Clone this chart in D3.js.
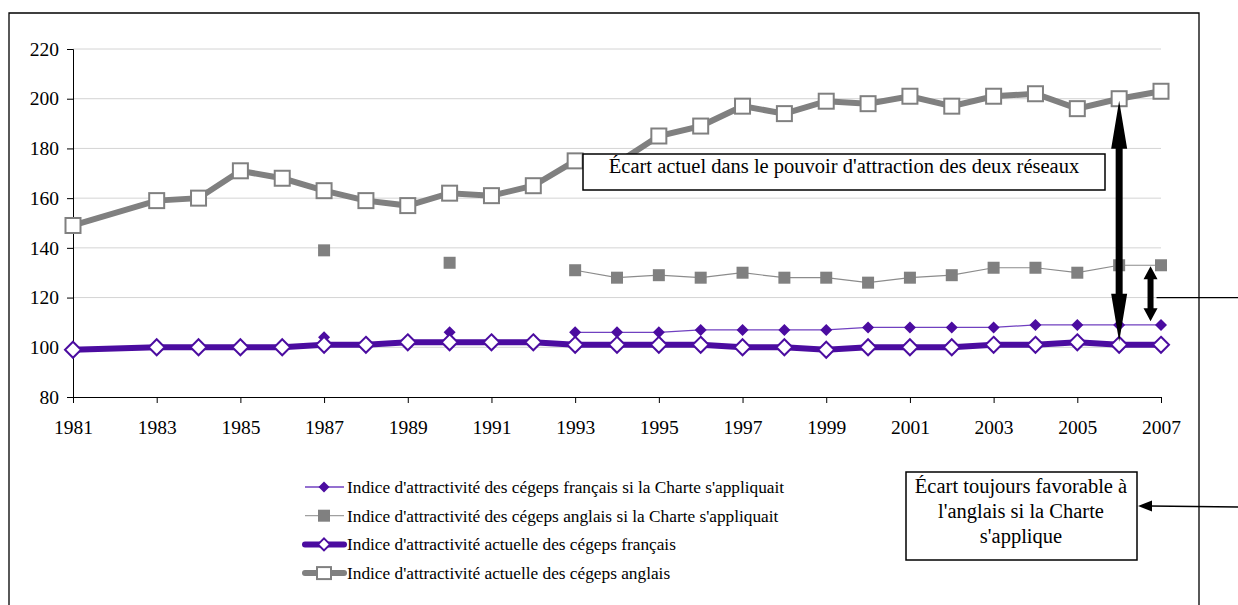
<!DOCTYPE html>
<html>
<head>
<meta charset="utf-8">
<script src="https://cdn.jsdelivr.net/npm/d3@7"></script>
<style>
  body { margin: 0; background: #fff; }
  svg text { font-family: "Liberation Serif", "Times New Roman", serif !important; fill: #000; }
</style>
</head>
<body>
<svg id="chart"></svg>
<script>
// data
const years = d3.range(1981, 2008).filter(y => y !== 1982);
const charteYears = years.slice(1); // 1983..2007
const yearTicks = [1981, 1983, 1985, 1987, 1989, 1991, 1993, 1995, 1997, 1999, 2001, 2003, 2005, 2007];
const valueTicks = [80, 100, 120, 140, 160, 180, 200, 220];

// null = no value that year (charte series are given for 1983..2007)
const frCharte = [null, null, null, null, 104, null, null, 106, null, null, 106, 106, 106, 107, 107, 107, 107, 108, 108, 108, 108, 109, 109, 109, 109];
const anCharte = [null, null, null, null, 139, null, null, 134, null, null, 131, 128, 129, 128, 130, 128, 128, 126, 128, 129, 132, 132, 130, 133, 133];
const frActuel = [99, 100, 100, 100, 100, 101, 101, 102, 102, 102, 102, 101, 101, 101, 101, 100, 100, 99, 100, 100, 100, 101, 101, 102, 101, 101];
const anActuel = [149, 159, 160, 171, 168, 163, 159, 157, 162, 161, 165, 175, 174, 185, 189, 197, 194, 199, 198, 201, 197, 201, 202, 196, 200, 203];

const seriesNames = [
  "Indice d'attractivité des cégeps français si la Charte s'appliquait",
  "Indice d'attractivité des cégeps anglais si la Charte s'appliquait",
  "Indice d'attractivité actuelle des cégeps français",
  "Indice d'attractivité actuelle des cégeps anglais"
];
const annot1 = "Écart actuel dans le pouvoir d'attraction des deux réseaux";
const annot2 = ["Écart toujours favorable à", "l'anglais si la Charte", "s'applique"];

const width = 1238, height = 605;
const purple = '#4b0ca0', grey = '#808080';

const svg = d3.select('#chart')
  .attr('width', width)
  .attr('height', height)
  .attr('viewBox', [0, 0, width, height]);

// outer frame (chart area border)
svg.append('path')
  .attr('d', `M9,605 V13 H1199 V605`)
  .attr('fill', 'none')
  .attr('stroke', '#000')
  .attr('stroke-width', 1.3);

const x = d3.scaleLinear([1981, 2007], [73, 1161]);
const y = d3.scaleLinear([80, 220], [397, 49]);

// gridlines
svg.append('g')
  .selectAll('line')
  .data(valueTicks.slice(1))
  .join('line')
    .attr('x1', x(1981)).attr('x2', x(2007))
    .attr('y1', d => y(d)).attr('y2', d => y(d))
    .attr('stroke', '#d4d4d4')
    .attr('stroke-width', 1);

// axes
const yAxis = svg.append('g')
  .attr('transform', `translate(${x(1981)},0)`)
  .call(d3.axisLeft(y).tickValues(valueTicks).tickSize(6).tickPadding(8));
const xAxis = svg.append('g')
  .attr('transform', `translate(0,${y(80)})`)
  .call(d3.axisBottom(x).tickValues(yearTicks).tickFormat(d3.format('d')).tickSize(6).tickPadding(17));
[xAxis, yAxis].forEach(g => {
  g.attr('font-size', 19.5);
  g.select('.domain').attr('stroke', '#000');
  g.selectAll('.tick line').attr('stroke', '#000');
});

const line = d3.line()
  .defined(d => d.v !== null)
  .x(d => x(d.yr))
  .y(d => y(d.v));

const zipYears = (yrs, vals) => yrs.map((yr, i) => ({ yr, v: vals[i] }));

const diamond = s => `M0,${-s}L${s},0L0,${s}L${-s},0Z`;

// series 1: français si la Charte
const s1 = zipYears(charteYears, frCharte);
svg.append('path')
  .attr('d', line(s1))
  .attr('fill', 'none')
  .attr('stroke', '#7040c0')
  .attr('stroke-width', 1.3);
svg.append('g')
  .selectAll('path')
  .data(s1.filter(d => d.v !== null))
  .join('path')
    .attr('transform', d => `translate(${x(d.yr)},${y(d.v)})`)
    .attr('d', diamond(6))
    .attr('fill', purple);

// series 2: anglais si la Charte
const s2 = zipYears(charteYears, anCharte);
svg.append('path')
  .attr('d', line(s2))
  .attr('fill', 'none')
  .attr('stroke', '#8c8c8c')
  .attr('stroke-width', 1.2);
svg.append('g')
  .selectAll('rect')
  .data(s2.filter(d => d.v !== null))
  .join('rect')
    .attr('x', d => x(d.yr) - 6)
    .attr('y', d => y(d.v) - 6)
    .attr('width', 12)
    .attr('height', 12)
    .attr('fill', grey);

// series 3: français actuel
const s3 = zipYears(years, frActuel);
svg.append('path')
  .attr('d', line(s3))
  .attr('fill', 'none')
  .attr('stroke', purple)
  .attr('stroke-width', 6);
svg.append('g')
  .selectAll('path')
  .data(s3)
  .join('path')
    .attr('transform', d => `translate(${x(d.yr)},${y(d.v)})`)
    .attr('d', diamond(8))
    .attr('fill', '#fff')
    .attr('stroke', purple)
    .attr('stroke-width', 2);

// series 4: anglais actuel
const s4 = zipYears(years, anActuel);
svg.append('path')
  .attr('d', line(s4))
  .attr('fill', 'none')
  .attr('stroke', grey)
  .attr('stroke-width', 6);
svg.append('g')
  .selectAll('rect')
  .data(s4)
  .join('rect')
    .attr('x', d => x(d.yr) - 7.5)
    .attr('y', d => y(d.v) - 7.5)
    .attr('width', 15)
    .attr('height', 15)
    .attr('fill', '#fff')
    .attr('stroke', grey)
    .attr('stroke-width', 2);

// annotation box 1
const box1 = svg.append('g');
box1.append('rect')
  .attr('x', 583).attr('y', 154)
  .attr('width', 522).attr('height', 36)
  .attr('fill', '#fff')
  .attr('stroke', '#000')
  .attr('stroke-width', 1.5);
box1.append('text')
  .attr('x', 844).attr('y', 173)
  .attr('text-anchor', 'middle')
  .attr('font-size', 20.5)
  .text(annot1);

// double arrow helper
const dblArrow = (cx, y1, y2, shaft, headW, headL) => {
  const s = shaft / 2, h = headW / 2;
  return `M${cx},${y1} L${cx + h},${y1 + headL} L${cx + s},${y1 + headL} L${cx + s},${y2 - headL} L${cx + h},${y2 - headL}` +
    ` L${cx},${y2} L${cx - h},${y2 - headL} L${cx - s},${y2 - headL} L${cx - s},${y1 + headL} L${cx - h},${y1 + headL} Z`;
};

// big arrow: gap between the two actual series in 2006
const i2006 = years.indexOf(2006);
svg.append('path')
  .attr('d', dblArrow(x(2006), y(anActuel[i2006]) + 2, y(frActuel[i2006]) - 3, 7, 16, 48))
  .attr('fill', '#000');

// small arrow: gap if the Charte applied
svg.append('path')
  .attr('d', dblArrow(x(2006.75), y(133) + 1, y(110.5), 6, 14, 13))
  .attr('fill', '#000');

// connector to the second box
svg.append('line')
  .attr('x1', x(2006.75) + 6).attr('x2', width)
  .attr('y1', y(120)).attr('y2', y(120))
  .attr('stroke', '#000')
  .attr('stroke-width', 1.3);

// annotation box 2
const box2 = svg.append('g');
box2.append('rect')
  .attr('x', 906).attr('y', 472)
  .attr('width', 231).attr('height', 88)
  .attr('fill', '#fff')
  .attr('stroke', '#000')
  .attr('stroke-width', 1.5);
box2.append('text')
  .attr('text-anchor', 'middle')
  .attr('font-size', 20.5)
  .selectAll('tspan')
  .data(annot2)
  .join('tspan')
    .attr('x', 1021)
    .attr('y', (d, i) => 493 + i * 25)
    .text(d => d);

// arrow pointing into box 2
svg.append('line')
  .attr('x1', width).attr('x2', 1150)
  .attr('y1', 507).attr('y2', 506)
  .attr('stroke', '#000')
  .attr('stroke-width', 1.5);
svg.append('path')
  .attr('d', 'M1138,506 L1152,500.5 L1152,511.5 Z')
  .attr('fill', '#000');

// legend
const legend = svg.append('g');
const legendItems = [
  { name: seriesNames[0], stroke: '#7040c0', sw: 1.3, marker: 'fdiamond' },
  { name: seriesNames[1], stroke: '#a0a0a0', sw: 1.3, marker: 'fsquare' },
  { name: seriesNames[2], stroke: purple, sw: 6, marker: 'odiamond' },
  { name: seriesNames[3], stroke: grey, sw: 6, marker: 'osquare' }
];
const ly = i => 487 + i * 28.7;
legendItems.forEach((d, i) => {
  const g = legend.append('g').attr('transform', `translate(0,${ly(i)})`);
  g.append('line')
    .attr('x1', 305).attr('x2', 344)
    .attr('stroke', d.stroke)
    .attr('stroke-width', d.sw)
    .attr('stroke-linecap', d.sw > 3 ? 'round' : 'butt');
  if (d.marker === 'fdiamond') {
    g.append('path').attr('transform', 'translate(324,0)').attr('d', diamond(5.5)).attr('fill', purple);
  } else if (d.marker === 'fsquare') {
    g.append('rect').attr('x', 318).attr('y', -6).attr('width', 12).attr('height', 12).attr('fill', grey);
  } else if (d.marker === 'odiamond') {
    g.append('path').attr('transform', 'translate(324,0)').attr('d', diamond(6))
      .attr('fill', '#fff').attr('stroke', purple).attr('stroke-width', 2);
  } else {
    g.append('rect').attr('x', 317).attr('y', -6).attr('width', 14).attr('height', 12)
      .attr('fill', '#fff').attr('stroke', grey).attr('stroke-width', 2);
  }
  g.append('text')
    .attr('x', 347)
    .attr('dy', '0.35em')
    .attr('font-size', 17.3)
    .text(d.name);
});
</script>
</body>
</html>
